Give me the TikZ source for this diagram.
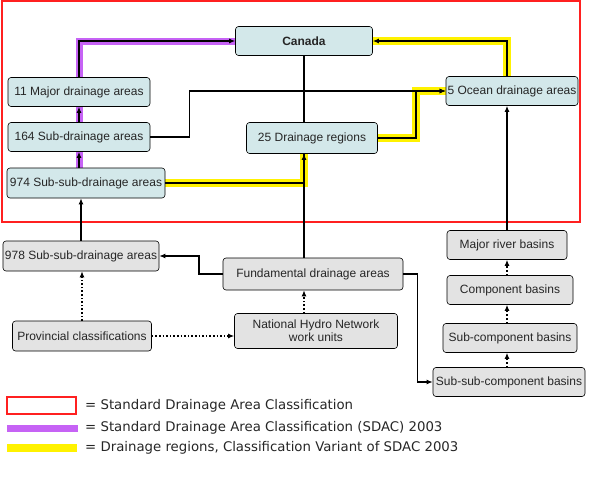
\documentclass[tikz,border=0pt]{standalone}
\usepackage{fontspec}
\setmainfont{Liberation Sans}
\newfontfamily\legendfont{DejaVu Sans}
\usetikzlibrary{arrows.meta,positioning,backgrounds}
\definecolor{sdacblue}{HTML}{D3E8EA}
\definecolor{boxgray}{HTML}{E3E3E3}
\definecolor{bandpurple}{HTML}{C663F5}
\definecolor{frame}{HTML}{FF2020}
\tikzset{
  box/.style={draw=black,semithick,rounded corners=3pt,minimum height=29pt,inner sep=1pt,
    text=black!85,font=\fontsize{12}{13.5}\selectfont,align=center},
  sdac/.style={box,fill=sdacblue},
  other/.style={box,fill=boxgray},
  link/.style={-{Latex[length=6pt,width=5pt]},line width=1.6pt},
  plain/.style={line width=1.6pt},
  loose/.style={-{Latex[length=6pt,width=5pt]},line width=1.6pt,dotted},
  purpleband/.style={line width=7pt,draw=bandpurple},
  yellowband/.style={line width=8pt,draw=yellow},
  legend/.style={anchor=west,inner sep=0pt,font=\legendfont\fontsize{13.3}{15}\selectfont,text=black!85}
}
\begin{document}
\begin{tikzpicture}[x=1pt,y=-1pt]
  \useasboundingbox (0,0) rectangle (590,477);
  % outer frame of the standard classification
  \draw[frame,line width=1.5pt] (2,1) rectangle (580,222);

  % standard classification
  \node[sdac,minimum width=137pt,font=\fontsize{12}{13.5}\selectfont\bfseries] (canada) at (304,41) {Canada};
  \node[sdac,minimum width=142pt] (major) at (79,92) {11 Major drainage areas};
  \node[sdac,minimum width=142pt] (sub) at (79,137) {164 Sub-drainage areas};
  \node[sdac,minimum width=158pt,minimum height=30pt] (subsub) at (86,183) {974 Sub-sub-drainage areas};
  \node[sdac,minimum width=131pt,minimum height=31pt] (regions) at (312,138) {25 Drainage regions};
  \node[sdac,minimum width=132pt] (ocean) at (512,91) {5 Ocean drainage areas};

  % working units
  \node[other,minimum width=156pt,minimum height=30pt] (prov978) at (81,256) {978 Sub-sub-drainage areas};
  \node[other,minimum width=180pt,minimum height=32pt] (fund) at (313,274) {Fundamental drainage areas};
  \node[other,minimum width=139pt,minimum height=30pt] (prov) at (82,336) {Provincial classifications};
  \node[other,minimum width=163pt,minimum height=35pt,font=\fontsize{12}{13}\selectfont] (nhn) at (316,331) {National Hydro Network\\work units};
  \node[other,minimum width=120pt] (river) at (507,245) {Major river basins};
  \node[other,minimum width=126pt] (comp) at (510,290) {Component basins};
  \node[other,minimum width=134pt] (subcomp) at (510,338) {Sub-component basins};
  \node[other,minimum width=152pt] (subsubcomp) at (509,382) {Sub-sub-component basins};

  \coordinate (spine) at (304,0);
  \coordinate (east) at (507,0);

  % highlight bands
  \begin{pgfonlayer}{background}
    \draw[purpleband] (major.north) |- (canada.west);
    \draw[purpleband] (sub.north) -- (major.south);
    \draw[purpleband] (subsub.north -| sub.north) -- (sub.south);
    \draw[yellowband] (subsub.east) -| (spine |- regions.south);
    \draw[yellowband] (regions.east) -- ++(38,0) |- (ocean.west);
    \draw[yellowband] (ocean.north -| east) |- (canada.east);
  \end{pgfonlayer}

  % connectors
  \draw[link] (major.north) |- (canada.west);
  \draw[link] (sub.north) -- (major.south);
  \draw[link] (subsub.north -| sub.north) -- (sub.south);
  \draw[link] (sub.east) -- ++(39,0) |- (ocean.west);
  \draw[link] (regions.east) -- ++(38,0) |- (ocean.west);
  \draw[plain] (subsub.east) -| (spine |- regions.south);
  \draw[plain] (spine |- canada.south) -- (spine |- regions.north);
  \draw[link] (ocean.north -| east) |- (canada.east);
  \draw[link] (river.north) -- (river.north |- ocean.south);
  \draw[link] (spine |- fund.north) -- (spine |- regions.south);
  \draw[link] (prov978.north) -- (prov978.north |- subsub.south);
  \draw[link] (fund.west) -- ++(-24,0) |- (prov978.east);
  \draw[link] (fund.east) -- ++(14,0) |- (subsubcomp.west);

  % derived units
  \draw[loose] (prov.north) -- (prov.north |- prov978.south);
  \draw[loose] (prov.east) -- (prov.east -| nhn.west);
  \draw[loose] (spine |- nhn.north) -- (spine |- fund.south);
  \draw[loose] (east |- subsubcomp.north) -- (east |- subcomp.south);
  \draw[loose] (east |- subcomp.north) -- (east |- comp.south);
  \draw[loose] (east |- comp.north) -- (east |- river.south);

  % legend
  \draw[frame,line width=1.2pt] (7,397) rectangle (76,414);
  \fill[bandpurple] (7,425) rectangle (78,432);
  \fill[yellow] (7,444) rectangle (77,452);
  \node[legend] (l1) at (85,406) {= Standard Drainage Area Classification};
  \node[legend] (l2) at (85,428) {= Standard Drainage Area Classification (SDAC) 2003};
  \node[legend] (l3) at (85,448) {= Drainage regions, Classification Variant of SDAC 2003};
\end{tikzpicture}
\end{document}
